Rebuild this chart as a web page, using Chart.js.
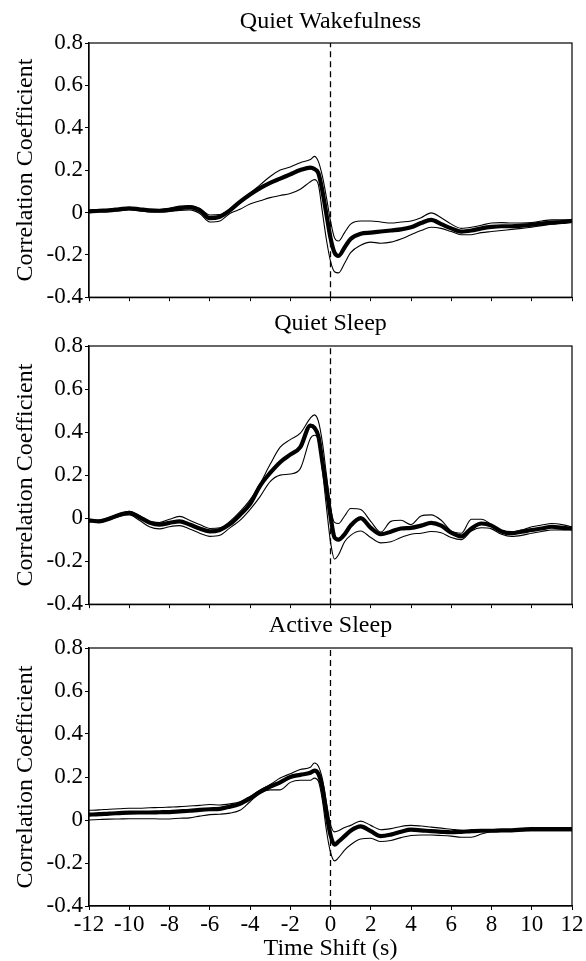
<!DOCTYPE html>
<html>
<head>
<meta charset="utf-8">
<script src="https://cdn.jsdelivr.net/npm/chart.js@4.4.1/dist/chart.umd.min.js"></script>
<style>
body { margin: 0; background: #fff; width: 586px; height: 961px; position: relative; overflow: hidden; }
canvas { position: absolute; left: 0; }
</style>
</head>
<body>
<canvas id="wake" width="586" height="313" style="top:0px"></canvas>
<canvas id="quiet" width="586" height="315" style="top:305px"></canvas>
<canvas id="active" width="586" height="351" style="top:610px"></canvas>
<script>
// ==========================================
// DATA
// ==========================================
const timeShift = [-12, -11.5, -11, -10.5, -10, -9.5, -9, -8.5, -8, -7.5, -7, -6.5, -6, -5.5, -5, -4.5, -4, -3.5, -3, -2.5, -2, -1.5, -1,
    -0.8, -0.6, -0.4, -0.2, 0, 0.2, 0.4, 0.7,
    1, 1.5, 2, 2.5, 3, 3.5, 4, 4.5, 5, 5.5, 6, 6.5, 7, 7.5, 8, 8.5, 9, 9.5, 10, 10.5, 11, 11.5, 12];

// Quiet Wakefulness
const wakeMean = [0.005, 0.008, 0.01, 0.015, 0.02, 0.015, 0.01, 0.008, 0.012, 0.02, 0.025, 0.01, -0.027, -0.02, 0.01, 0.05, 0.085, 0.115, 0.14, 0.16, 0.18, 0.2, 0.212,
    0.205, 0.185, 0.1, -0.01, -0.12, -0.19, -0.205, -0.165,
    -0.125, -0.1, -0.095, -0.09, -0.085, -0.08, -0.07, -0.05, -0.035, -0.055, -0.075, -0.09, -0.085, -0.075, -0.068, -0.065, -0.065, -0.062, -0.058, -0.052, -0.048, -0.045, -0.04];
const wakeUpper = [0.01, 0.012, 0.015, 0.02, 0.022, 0.018, 0.013, 0.012, 0.02, 0.03, 0.032, 0.02, -0.012, -0.01, 0.015, 0.055, 0.09, 0.13, 0.17, 0.2, 0.215, 0.235, 0.25,
    0.265, 0.24, 0.17, 0.07, -0.04, -0.12, -0.135, -0.095,
    -0.055, -0.04, -0.04, -0.045, -0.05, -0.045, -0.04, -0.025, -0.002, -0.025, -0.055, -0.075, -0.07, -0.06, -0.05, -0.048, -0.05, -0.05, -0.048, -0.04, -0.035, -0.035, -0.035];
const wakeLower = [0, 0.003, 0.005, 0.008, 0.012, 0.008, 0.003, 0.002, 0.005, 0.01, 0.012, -0.005, -0.045, -0.04, -0.005, 0.015, 0.04, 0.055, 0.07, 0.08, 0.09, 0.11, 0.145,
    0.155, 0.13, 0, -0.13, -0.23, -0.28, -0.285, -0.24,
    -0.19, -0.155, -0.14, -0.145, -0.14, -0.125, -0.105, -0.085, -0.07, -0.075, -0.09, -0.105, -0.105, -0.095, -0.09, -0.085, -0.08, -0.075, -0.07, -0.062, -0.055, -0.05, -0.045];

// Quiet Sleep
const quietMean = [-0.01, -0.015, -0.003, 0.015, 0.025, 0.005, -0.02, -0.03, -0.022, -0.015, -0.03, -0.048, -0.062, -0.055, -0.028, 0.015, 0.065, 0.15, 0.21, 0.26, 0.295, 0.33, 0.43,
    0.42, 0.38, 0.26, 0.14, 0.01, -0.09, -0.1, -0.075,
    -0.035, 0, -0.045, -0.075, -0.063, -0.048, -0.045, -0.035, -0.022, -0.035, -0.068, -0.085, -0.048, -0.025, -0.035, -0.062, -0.07, -0.063, -0.055, -0.048, -0.04, -0.045, -0.048];
const quietUpper = [-0.005, -0.01, 0.003, 0.02, 0.032, 0.012, -0.015, -0.02, -0.005, 0.008, -0.01, -0.03, -0.048, -0.045, -0.015, 0.03, 0.085, 0.16, 0.25, 0.33, 0.365, 0.395, 0.465,
    0.48, 0.45, 0.35, 0.2, 0.05, -0.02, -0.025, 0.01,
    0.045, 0.04, -0.015, -0.065, -0.015, -0.01, -0.03, 0.01, 0.015, -0.01, -0.06, -0.07, -0.005, -0.005, -0.03, -0.058, -0.065, -0.055, -0.04, -0.032, -0.025, -0.03, -0.04];
const quietLower = [-0.015, -0.02, -0.008, 0.008, 0.015, -0.01, -0.04, -0.05, -0.04, -0.035, -0.05, -0.07, -0.085, -0.08, -0.045, -0.01, 0.04, 0.1, 0.17, 0.2, 0.205, 0.23, 0.37,
    0.385, 0.36, 0.22, 0.05, -0.11, -0.19, -0.17, -0.11,
    -0.08, -0.06, -0.09, -0.115, -0.11, -0.09, -0.075, -0.07, -0.062, -0.068, -0.09, -0.1, -0.06, -0.045, -0.05, -0.075, -0.085, -0.08, -0.07, -0.062, -0.055, -0.055, -0.055];

// Active Sleep
const activeMean = [0.025, 0.027, 0.03, 0.032, 0.034, 0.035, 0.035, 0.036, 0.037, 0.04, 0.043, 0.047, 0.05, 0.052, 0.062, 0.075, 0.1, 0.13, 0.155, 0.175, 0.2, 0.21, 0.22,
    0.23, 0.215, 0.15, 0.03, -0.07, -0.115, -0.1, -0.075,
    -0.05, -0.03, -0.052, -0.075, -0.068, -0.055, -0.045, -0.048, -0.052, -0.055, -0.057, -0.055, -0.052, -0.05, -0.05, -0.048, -0.048, -0.045, -0.042, -0.042, -0.042, -0.042, -0.042];
const activeUpper = [0.045, 0.047, 0.05, 0.052, 0.055, 0.055, 0.057, 0.058, 0.06, 0.062, 0.065, 0.068, 0.072, 0.07, 0.075, 0.085, 0.11, 0.14, 0.165, 0.195, 0.215, 0.235, 0.245,
    0.265, 0.25, 0.19, 0.08, -0.02, -0.055, -0.05, -0.035,
    -0.025, -0.005, -0.025, -0.045, -0.04, -0.03, -0.025, -0.028, -0.033, -0.038, -0.043, -0.048, -0.05, -0.048, -0.046, -0.045, -0.044, -0.042, -0.04, -0.04, -0.04, -0.04, -0.04];
const activeLower = [0, 0.002, 0.004, 0.005, 0.006, 0.006, 0.006, 0.005, 0.005, 0.008, 0.01, 0.018, 0.025, 0.027, 0.032, 0.045, 0.085, 0.125, 0.14, 0.14, 0.175, 0.185, 0.185,
    0.195, 0.18, 0.09, -0.05, -0.15, -0.19, -0.175, -0.14,
    -0.115, -0.088, -0.085, -0.1, -0.095, -0.082, -0.072, -0.07, -0.07, -0.072, -0.075, -0.08, -0.08, -0.065, -0.055, -0.053, -0.052, -0.05, -0.05, -0.05, -0.05, -0.05, -0.05];

const yMin = -0.4, yMax = 0.8, yStep = 0.2;
const xMin = -12, xMax = 12, xStep = 2;

// ==========================================
// CHART SETUP
// ==========================================
const FONT = "'Liberation Serif', 'Times New Roman', serif";

function pts(ys) {
    return timeShift.map((x, i) => ({ x: x, y: ys[i] }));
}

// closes the box on the top and right sides
const framePlugin = {
    id: 'frame',
    afterDatasetsDraw(chart) {
        const a = chart.chartArea;
        const ctx = chart.ctx;
        ctx.save();
        ctx.strokeStyle = '#000';
        ctx.lineWidth = 1.2;
        ctx.strokeRect(a.left, a.top, a.right - a.left, a.bottom - a.top);
        ctx.restore();
    }
};

function makePanel(id, title, mean, upper, lower, cfg) {
    const band = { borderColor: '#000', borderWidth: 1.1, cubicInterpolationMode: 'monotone' };
    return new Chart(document.getElementById(id), {
        type: 'line',
        data: {
            datasets: [
                Object.assign({ data: pts(upper) }, band),
                Object.assign({ data: pts(lower) }, band),
                { data: pts(mean), borderColor: '#000', borderWidth: 4.2, cubicInterpolationMode: 'monotone' },
                { data: [{ x: 0, y: yMin }, { x: 0, y: yMax }], borderColor: '#000', borderWidth: 1.3, borderDash: [6, 4] }
            ]
        },
        options: {
            responsive: false,
            animation: false,
            devicePixelRatio: 1,
            layout: { padding: { left: 0, right: 14, top: 0, bottom: 0 } },
            elements: { point: { radius: 0 }, line: { fill: false } },
            plugins: {
                legend: { display: false },
                tooltip: { enabled: false },
                title: {
                    display: true,
                    fullSize: false,
                    text: title,
                    color: '#000',
                    font: { family: FONT, size: 24, weight: 'normal' },
                    padding: { top: cfg.padTop, bottom: cfg.padBottom }
                }
            },
            scales: {
                x: {
                    type: 'linear',
                    min: xMin,
                    max: xMax,
                    ticks: {
                        stepSize: xStep,
                        display: cfg.showX,
                        color: '#000',
                        font: { family: FONT, size: 23 },
                        padding: 1,
                        maxRotation: 0,
                        autoSkip: false,
                        callback: v => String(v)
                    },
                    grid: { drawOnChartArea: false, color: '#000', tickLength: 4 },
                    border: { color: '#000', width: 1.2 },
                    title: {
                        display: cfg.showX,
                        text: 'Time Shift (s)',
                        color: '#000',
                        font: { family: FONT, size: 24, lineHeight: 1 },
                        padding: { top: 0, bottom: 0 }
                    },
                    afterFit: s => { s.height = cfg.xHeight; }
                },
                y: {
                    min: yMin,
                    max: yMax,
                    ticks: {
                        stepSize: yStep,
                        color: '#000',
                        font: { family: FONT, size: 23 },
                        padding: 2,
                        callback: v => Math.abs(v) < 1e-9 ? '0' : v.toFixed(1)
                    },
                    grid: { drawOnChartArea: false, color: '#000', tickLength: 4 },
                    border: { color: '#000', width: 1.2 },
                    title: {
                        display: true,
                        text: 'Correlation Coefficient',
                        color: '#000',
                        font: { family: FONT, size: 24 },
                        padding: { top: 11, bottom: 11 }
                    },
                    afterFit: s => { s.width = 89; }
                }
            }
        },
        plugins: [framePlugin]
    });
}

makePanel('wake', 'Quiet Wakefulness', wakeMean, wakeUpper, wakeLower,
    { padTop: 7.4, padBottom: 6.8, xHeight: 14, showX: false });
makePanel('quiet', 'Quiet Sleep', quietMean, quietUpper, quietLower,
    { padTop: 4.4, padBottom: 7.8, xHeight: 14, showX: false });
makePanel('active', 'Active Sleep', activeMean, activeUpper, activeLower,
    { padTop: 1.1, padBottom: 8.1, xHeight: 55, showX: true });
</script>
</body>
</html>
